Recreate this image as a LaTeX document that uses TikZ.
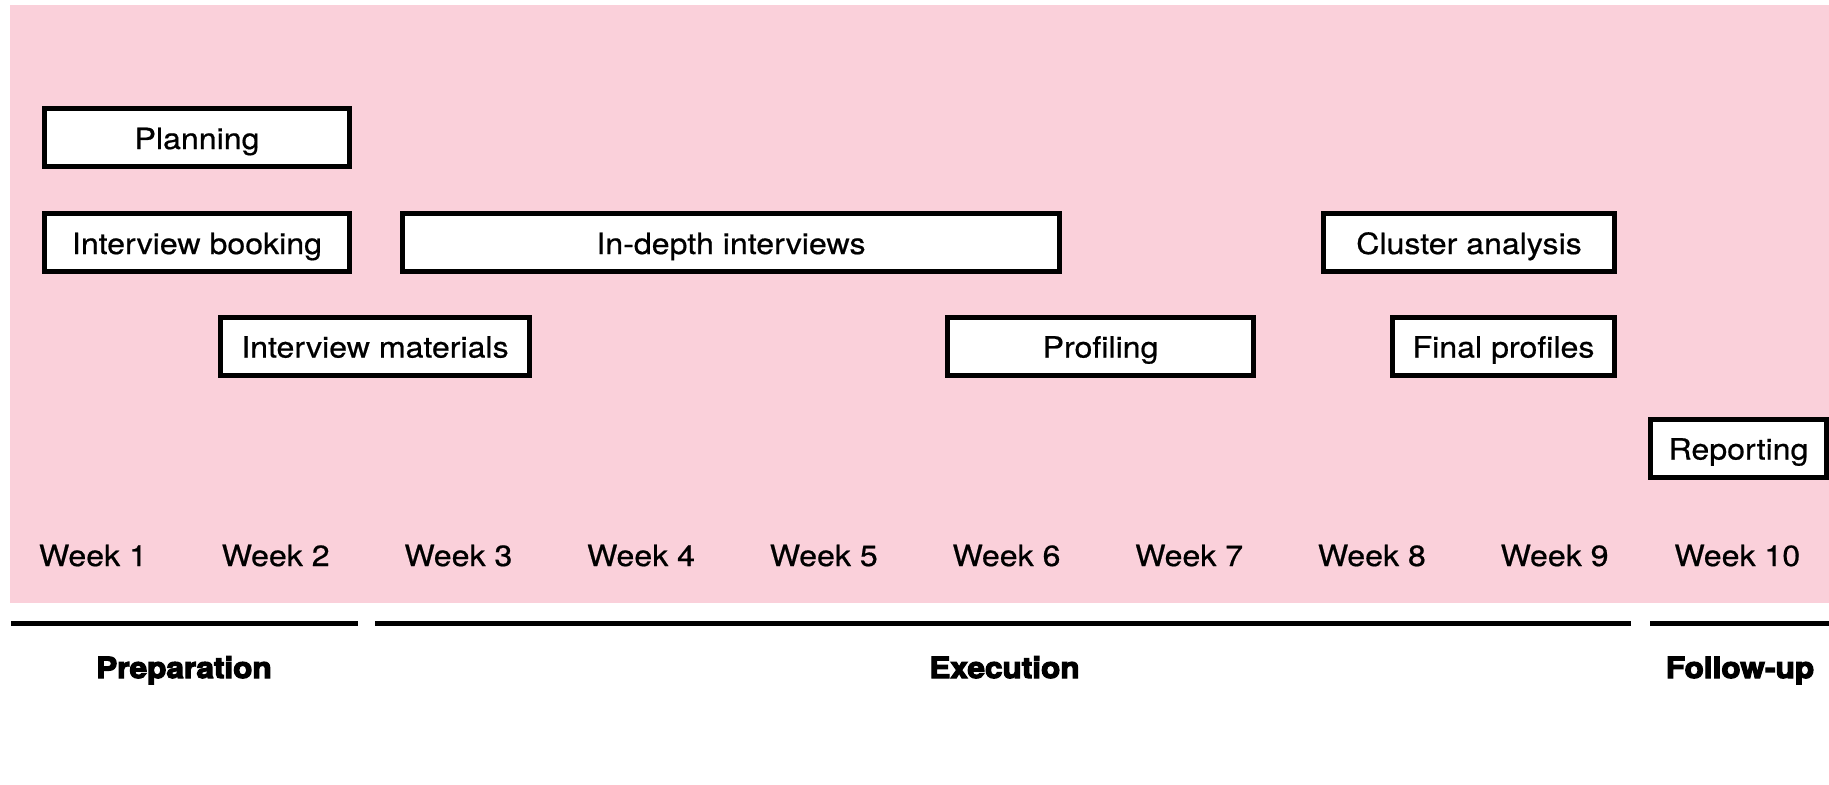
\documentclass[tikz,border=0pt]{standalone}
\usepackage{fontspec}
\setmainfont{TeX Gyre Heros}[FakeStretch=1.1,FakeBold=0.6]
\newfontfamily\phasefont{TeX Gyre Heros Bold}[FakeStretch=1.08,FakeBold=4]
\newcommand\chartsize{\fontsize{14.6pt}{17pt}\selectfont}
\definecolor{rosefond}{RGB}{250,208,218}

\tikzset{task/.style = {draw, fill=white, line width=2.5pt, minimum width=#1,
                        minimum height=29pt, inner sep=0pt, anchor=west,
                        text height=11.5pt, text depth=0pt},
         task/.default=150pt,
         week/.style = {anchor=base},
         phase/.style = {anchor=base, font=\phasefont\chartsize},
         phaserule/.style = {line width=2.5pt}
        }

\begin{document}
\begin{tikzpicture}[x=0.5pt, y=-0.5pt, font=\chartsize]
  \useasboundingbox (0,0) rectangle (1829,784);
  \fill[rosefond] (10,5) rectangle (1829,603);

  \node[task=152.5pt] (planning)   at (42,137.5)   {Planning};
  \node[task=152.5pt] (booking)    at (42,242.5)   {Interview booking};
  \node[task=328.5pt] (interviews) at (400,242.5)  {In-depth interviews};
  \node[task=145.5pt] (cluster)    at (1321,242.5) {Cluster analysis};
  \node[task=111pt]   (final)      at (1390,346)   {Final profiles};
  \node[task=154.5pt] (materials)  at (218,346)    {Interview materials};
  \node[task=153pt]   (profiling)  at (945,346)    {Profiling};
  \node[task=88pt]    (reporting)  at (1648,448)   {Reporting};

  \foreach \n in {1,...,10}
    \node[week] (w\n) at ({93+182.7*(\n-1)},566) {Week \n};

  \draw[phaserule] (11,623.5) -- (358,623.5);
  \draw[phaserule] (375,623.5) -- (1631,623.5);
  \draw[phaserule] (1650,623.5) -- (1829,623.5);

  \node[phase] (preparation) at (184,678)    {Preparation};
  \node[phase] (execution)   at (1004.5,678) {Execution};
  \node[phase] (followup)    at (1740,678)   {Follow-up};
\end{tikzpicture}
\end{document}
